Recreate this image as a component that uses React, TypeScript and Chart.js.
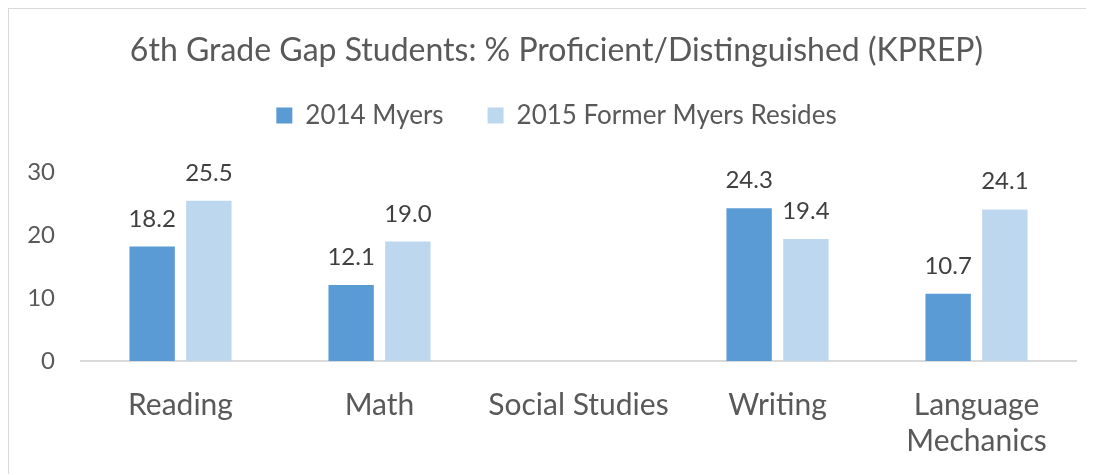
import React, { useEffect, useRef } from "react";
import { Chart, registerables } from "chart.js";

Chart.register(...registerables);

const categories: (string | string[])[] = ["Reading", "Math", "Social Studies", "Writing", ["Language", "Mechanics"]];
const series2014: (number | null)[] = [18.2, 12.1, null, 24.3, 10.7];
const series2015: (number | null)[] = [25.5, 19.0, null, 19.4, 24.1];
const seriesNames = ["2014 Myers", "2015 Former Myers Resides"];
const yTicks = [0, 10, 20, 30];

const FONT = "Lato, 'Open Sans', sans-serif";

const dataLabels = {
  id: "dataLabels",
  afterDatasetsDraw(chart: any) {
    const ctx = chart.ctx;
    ctx.save();
    ctx.font = `24px ${FONT}`;
    ctx.fillStyle = "#404040";
    ctx.textAlign = "center";
    ctx.textBaseline = "alphabetic";
    chart.data.datasets.forEach((ds: any, i: number) => {
      const meta = chart.getDatasetMeta(i);
      meta.data.forEach((bar: any, j: number) => {
        const v = ds.data[j];
        if (v === null || v === undefined) return;
        ctx.fillText(Number(v).toFixed(1), bar.x, bar.y - 20);
      });
    });
    ctx.restore();
  },
};

export default function App() {
  const ref = useRef<HTMLCanvasElement | null>(null);
  useEffect(() => {
    if (!ref.current) return;
    const chart = new Chart(ref.current, {
      type: "bar",
      data: {
        labels: categories,
        datasets: [
          {
            label: seriesNames[0],
            data: series2014,
            backgroundColor: "#5B9BD5",
            borderWidth: 0,
            categoryPercentage: 0.57,
            barPercentage: 0.8,
          },
          {
            label: seriesNames[1],
            data: series2015,
            backgroundColor: "#BDD7EE",
            borderWidth: 0,
            categoryPercentage: 0.57,
            barPercentage: 0.8,
          },
        ],
      },
      options: {
        animation: false,
        responsive: false,
        maintainAspectRatio: false,
        layout: { padding: { top: 22, right: 0, left: 0, bottom: 0 } },
        plugins: {
          title: {
            display: true,
            text: "6th Grade Gap Students: % Proficient/Distinguished (KPREP)",
            color: "#595959",
            font: { family: FONT, size: 32, weight: "normal", lineHeight: 1.2 },
            padding: { top: 0, bottom: -11 },
          },
          subtitle: {
            display: true,
            text: "",
            weight: 500,
            font: { family: FONT, size: 10, lineHeight: 1 },
            padding: { top: 24, bottom: 0 },
          },
          legend: {
            position: "top",
            labels: {
              color: "#595959",
              font: { family: FONT, size: 26 },
              boxWidth: 16,
              boxHeight: 16,
              padding: 44,
            },
          },
          tooltip: { enabled: false },
        },
        scales: {
          x: {
            grid: { display: false, drawTicks: false },
            border: { display: true, color: "#d9d9d9", width: 2 },
            ticks: {
              color: "#595959",
              font: { family: FONT, size: 30, lineHeight: 1.2 },
              padding: 26,
              maxRotation: 0,
              autoSkip: false,
            },
          },
          y: {
            min: 0,
            max: 30,
            grid: { display: false, drawTicks: false },
            border: { display: false },
            afterFit: (s: any) => {
              s.width = 72;
            },
            afterBuildTicks: (s: any) => {
              s.ticks = yTicks.map((v) => ({ value: v }));
            },
            ticks: {
              color: "#595959",
              font: { family: FONT, size: 24 },
              padding: 26,
            },
          },
          yRight: {
            position: "right",
            display: true,
            grid: { display: false, drawTicks: false },
            border: { display: false },
            ticks: { display: false },
            afterFit: (s: any) => {
              s.width = 28;
            },
          },
        },
      },
      plugins: [dataLabels],
    });
    return () => chart.destroy();
  }, []);
  return (
    <div
      style={{
        width: 1086,
        height: 467,
        marginLeft: -1,
        marginTop: -1,
        borderTop: "2px solid #d9d9d9",
        borderLeft: "2px solid #d9d9d9",
        boxSizing: "border-box",
        overflow: "hidden",
      }}
    >
      <canvas ref={ref} width={1095} height={476} style={{ display: "block" }} />
    </div>
  );
}
